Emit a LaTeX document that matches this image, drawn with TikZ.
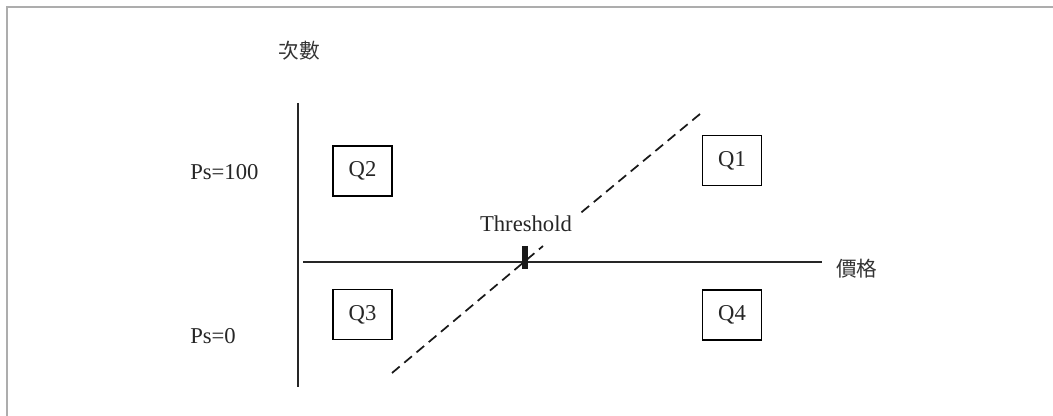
\documentclass[tikz,border=0pt]{standalone}
\usepackage{fontspec}
\setmainfont{Liberation Serif}
\newfontfamily\cjk{Noto Sans CJK TC}
\begin{document}
\begin{tikzpicture}[x=0.75pt,y=-0.75pt,
  qbox/.style={draw, line width=1pt, minimum width=44.25pt, minimum height=37.5pt, inner sep=0pt, font=\fontsize{17}{20}\selectfont, text=black!85},
  lbl/.style={font=\fontsize{17}{20}\selectfont, text=black!85, inner sep=0pt},
  cjklbl/.style={font=\cjk\fontsize{15.5}{18}\selectfont, text=black!80, inner sep=0pt},
  axis/.style={line width=1.4pt, black!85},
  trend/.style={line width=1.3pt, dash pattern=on 7.5pt off 4.5pt, black!90}]
\useasboundingbox (0,0) rectangle (1053,416);
% frame
\draw[line width=1.5pt, black!32] (7,416) -- (7,7) -- (1053,7);
% axes
\coordinate (vtop) at (298,103);
\coordinate (vbot) at (298,387);
\coordinate (hl) at (303,262);
\coordinate (hr) at (822,262);
\draw[axis] (vtop) -- (vbot);
\draw[axis] (hl) -- (hr);
% labels
\node[cjklbl] (ylab) at (299,51) {次數};
\node[cjklbl, anchor=west] (xlab) at (836,269) {價格};
\node[lbl, anchor=west] (p100) at (190,172) {Ps=100};
\node[lbl, anchor=west] (p0) at (190,336) {Ps=0};
% boxes
\node[qbox] (q2) at (362.5,171) {Q2};
\node[qbox] (q1) at (732,160.5) {Q1};
\node[qbox] (q3) at (362.5,314.5) {Q3};
\node[qbox] (q4) at (732,315) {Q4};
% dashed threshold line
\coordinate (d0) at (392,373);
\coordinate (d1) at (543,246);
\coordinate (d2) at (577,216);
\coordinate (d3) at (700,114);
\draw[trend] (d0) -- (d1);
\draw[trend] (d3) -- (d2);
% tick
\coordinate (t0) at (525,246);
\coordinate (t1) at (525,269);
\draw[line width=4.5pt, black!90] (t0) -- (t1);
\node[lbl] (thr) at (526,224) {Threshold};
\end{tikzpicture}
\end{document}
